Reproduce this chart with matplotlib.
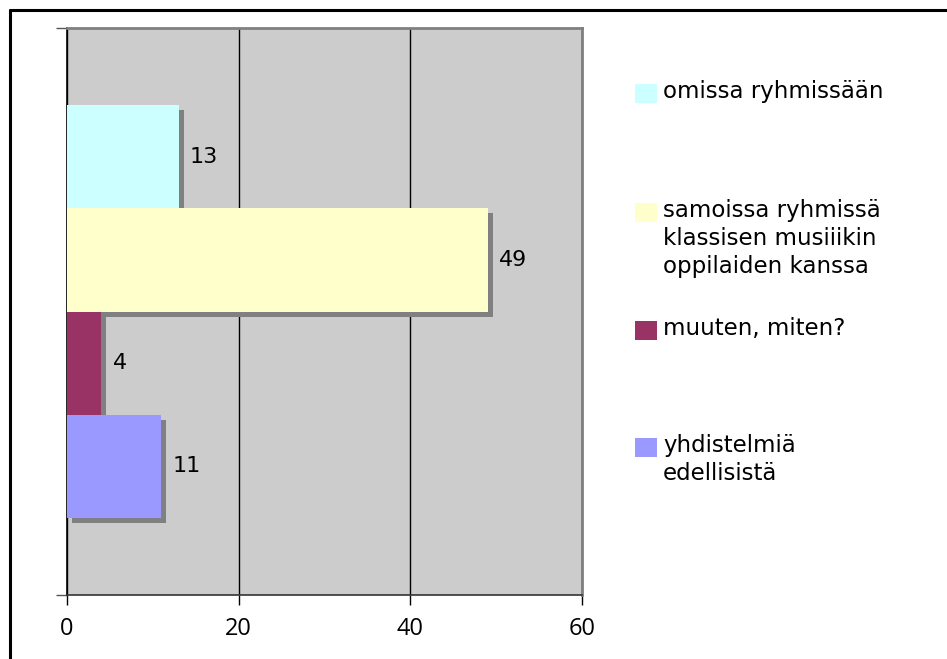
import matplotlib
matplotlib.use("Agg")
import matplotlib.pyplot as plt
import matplotlib.patheffects as pe
from matplotlib.patches import Rectangle
from matplotlib.lines import Line2D

categories = ["omissa ryhmissään",
              "samoissa ryhmissä\nklassisen musiiikin\noppilaiden kanssa",
              "muuten, miten?",
              "yhdistelmiä\nedellisistä"]
values = [13, 49, 4, 11]
colors = ["#CCFFFF", "#FFFFCC", "#993366", "#9999FF"]
xticks = [0, 20, 40, 60]

W, H = 947, 659
fig = plt.figure(figsize=(W / 100, H / 100), dpi=100)
fig.patch.set_facecolor("white")

# outer frame (only top and left visible in the reference)
fig.add_artist(Line2D([10 / W, 10 / W], [1 - 9 / H, -0.1], color="black", lw=2.2,
                      transform=fig.transFigure, solid_capstyle="butt"))
fig.add_artist(Line2D([9 / W, 1.1], [1 - 9.5 / H, 1 - 9.5 / H], color="black", lw=2.2,
                      transform=fig.transFigure, solid_capstyle="butt"))

left, right, top, bottom = 67, 582, 28, 595
ax = fig.add_axes([left / W, 1 - bottom / H, (right - left) / W, (bottom - top) / H])
ax.set_facecolor("#CCCCCC")

ypos = [1.25 + i for i in range(len(values))]
shadow = [pe.SimplePatchShadow(offset=(3.6, -3.6), shadow_rgbFace="#808080", alpha=1.0),
          pe.Normal()]
for y, v, c in zip(ypos, values, colors):
    b = ax.barh(y, v, height=1.0, color=c, edgecolor="none", zorder=3)
    for p in b:
        p.set_path_effects(shadow)
    ax.annotate(str(v), xy=(v, y), xytext=(8, 0), textcoords="offset points",
                va="center", ha="left", fontsize=16, family="DejaVu Sans",
                color="black", zorder=5)

ax.set_xlim(0, 60)
ax.set_ylim(5.5, 0)
ax.set_xticks(xticks)
ax.set_xticklabels([str(t) for t in xticks], fontsize=17, family="Open Sans")
ax.set_yticks([0, 5.5])
ax.set_yticklabels([])
ax.tick_params(axis="x", direction="out", length=7, width=1, color="black", pad=9)
ax.tick_params(axis="y", direction="out", length=8, width=1, color="#555555")
ax.xaxis.grid(True, color="black", lw=1)
ax.set_axisbelow(True)
for t in ax.xaxis.get_gridlines():
    t.set_zorder(1)

ax.spines["left"].set_color("black")
ax.spines["left"].set_linewidth(1.2)
ax.spines["bottom"].set_color("#333333")
ax.spines["bottom"].set_linewidth(1.2)
ax.spines["top"].set_color("#808080")
ax.spines["top"].set_linewidth(2)
ax.spines["right"].set_color("#808080")
ax.spines["right"].set_linewidth(2)

# legend
legend_y = [93, 212, 330, 447]
for ly, lab, c in zip(legend_y, categories, colors):
    fig.add_artist(Rectangle((635 / W, 1 - (ly + 9.5) / H), 22 / W, 19 / H,
                             transform=fig.transFigure, facecolor=c, edgecolor="none"))
    fig.text(663 / W, 1 - (ly - 13) / H, lab, ha="left", va="top", fontsize=16.5,
             family="DejaVu Sans", color="black", linespacing=1.28)

fig.savefig("out.png", dpi=100)
